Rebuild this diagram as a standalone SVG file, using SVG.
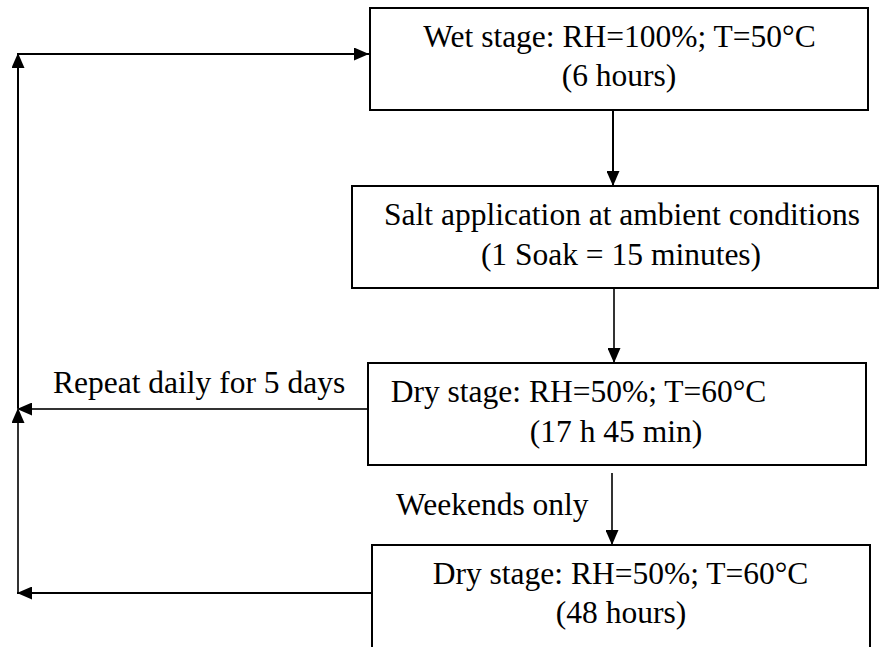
<svg xmlns="http://www.w3.org/2000/svg" width="880" height="647" viewBox="0 0 880 647" font-family="Liberation Serif">
<style>
.box{fill:#fff;stroke:#000;stroke-width:2}
.t{font-family:'Liberation Serif',serif;font-size:31.5px;fill:#000}
.c{text-anchor:middle}
.ln{fill:none;stroke:#000;stroke-width:2}
.lg{fill:none;stroke:#333;stroke-width:2}
</style>
<defs>
<marker id="ah" viewBox="0 0 15 13" refX="15" refY="6.5" markerWidth="15" markerHeight="13" markerUnits="userSpaceOnUse" orient="auto">
<path d="M0,0 L15,6.5 L0,13 Z" fill="#000"/>
</marker>
</defs>
<rect width="880" height="647" fill="#fff"/>
<g id="connectors">
<line class="ln" x1="18" y1="54" x2="369" y2="54" marker-end="url(#ah)"/>
<line class="ln" x1="18" y1="409" x2="18" y2="53" marker-end="url(#ah)"/>
<line class="lg" x1="18" y1="593" x2="18" y2="408" marker-end="url(#ah)"/>
<line class="lg" x1="368" y1="409" x2="17" y2="409" marker-end="url(#ah)"/>
<line class="ln" x1="372" y1="593" x2="17" y2="593" marker-end="url(#ah)"/>
<line class="ln" x1="613" y1="110" x2="613" y2="186" marker-end="url(#ah)"/>
<line class="lg" x1="614" y1="288" x2="614" y2="363" marker-end="url(#ah)"/>
<line class="lg" x1="612" y1="473" x2="612" y2="545" marker-end="url(#ah)"/>
<text class="t" x="53" y="393">Repeat daily for 5 days</text>
<text class="t" x="396" y="515">Weekends only</text>
</g>
<g id="wet">
<rect class="box" x="370" y="8" width="498" height="102"/>
<text class="t c" x="619.5" y="47">Wet stage: RH=100%; T=50°C</text>
<text class="t c" x="619" y="86">(6 hours)</text>
</g>
<g id="salt">
<rect class="box" x="352" y="186" width="526" height="102"/>
<text class="t c" x="622" y="225">Salt application at ambient conditions</text>
<text class="t c" x="621" y="265">(1 Soak = 15 minutes)</text>
</g>
<g id="dry1">
<rect class="box" x="368" y="363" width="498" height="102"/>
<text class="t c" x="578.5" y="402">Dry stage: RH=50%; T=60°C</text>
<text class="t c" x="616" y="442">(17 h 45 min)</text>
</g>
<g id="dry2">
<rect class="box" x="372" y="545" width="498" height="104"/>
<text class="t c" x="620.5" y="584">Dry stage: RH=50%; T=60°C</text>
<text class="t c" x="621" y="623">(48 hours)</text>
</g>
</svg>
